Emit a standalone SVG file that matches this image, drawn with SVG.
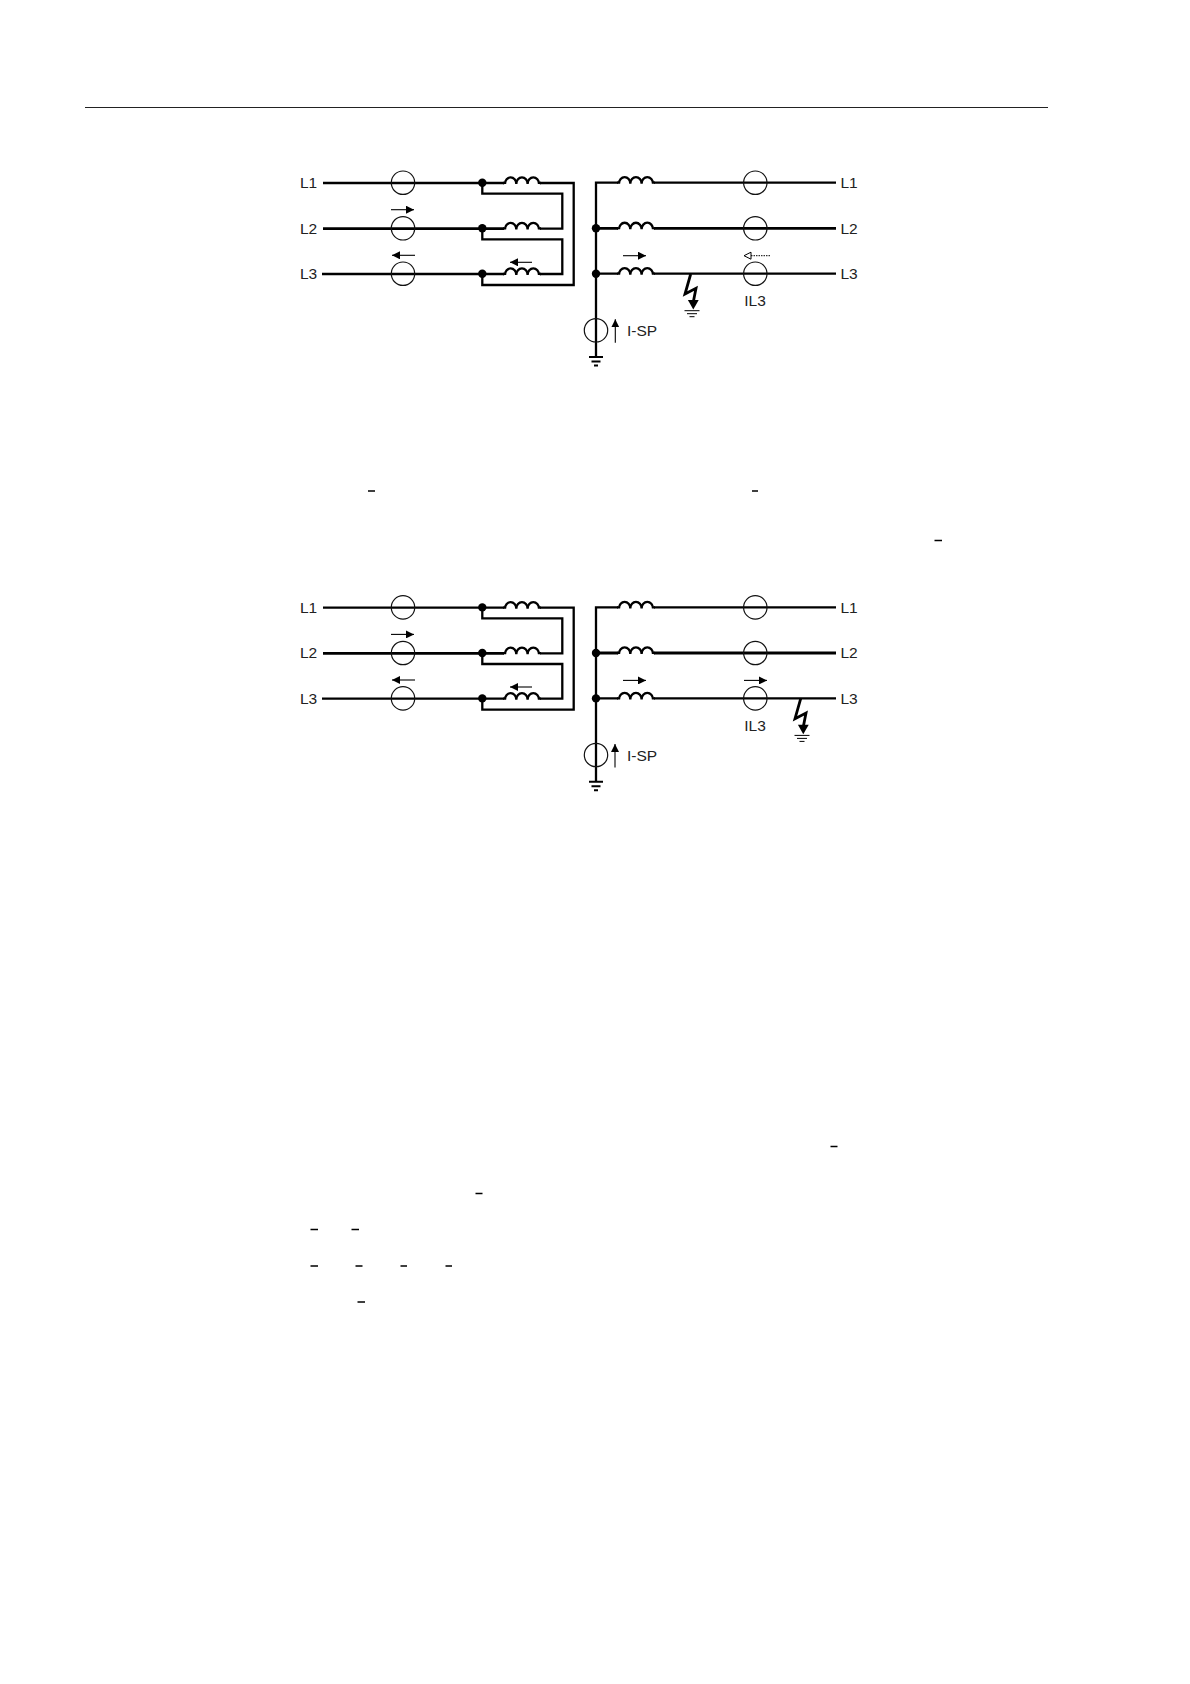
<svg xmlns="http://www.w3.org/2000/svg" xmlns:xlink="http://www.w3.org/1999/xlink" width="1190" height="1684" viewBox="0 0 1190 1684">
<style>
.w{fill:none;stroke:#000;stroke-width:2.300;stroke-linejoin:miter}
.h{stroke-width:2.800}
.ct{fill:none;stroke:#111;stroke-width:1.200}
.d{fill:#000}
.a{fill:none;stroke:#000;stroke-width:1.100;marker-end:url(#ah)}
.t{font-family:"Liberation Sans",Arial,sans-serif;font-size:15.500px;fill:#222}
.m{stroke:#000;stroke-width:1.500}
.g{stroke:#000;stroke-width:2}
.f{stroke:#000;stroke-width:1}
</style>
<defs>
<marker id="ah" markerUnits="userSpaceOnUse" markerWidth="9" markerHeight="8" refX="8" refY="4" orient="auto"><path d="M0 0L8 4L0 8Z" fill="#000"/></marker>
<path id="coil" d="M-1 0H0.500Q1 0 1 1A5.600 6.500 0 0 1 12.300 1A5.600 6.500 0 0 1 23.600 1A5.600 6.500 0 0 1 35 1Q35 0 35.500 0H37" fill="none" stroke="#000" stroke-width="2.300"/>
<g id="earth"><path class="g" d="M-7 0H7M-4.500 4.500H4.500M-2 8.500H2"/></g>
<g id="thin-earth"><path class="f" d="M-7.500 0H7.500M-5 3H5M-2.500 6H2.500"/></g>
<g id="bolt"><path d="M0 0L-5.700 20L5.300 14.300L2.600 28" fill="none" stroke="#000" stroke-width="2.800"/><path d="M-2.800 26H8L2.600 35.500Z" fill="#000"/></g>
</defs>

<g id="header"><path d="M85 107.500H1048" stroke="#222" stroke-width="1.100" fill="none"/></g>

<g id="diagram-1">
<g id="connectors-1">
<path class="w" d="M323 183H504"/>
<path class="w" d="M540 183H573.700V285H482.300V274"/>
<path class="w h" d="M323 228.700H504"/>
<path class="w" d="M322 274H504"/>
<path class="w" d="M482.300 183V193.700H562.300V228.700H540"/>
<path class="w" d="M482.300 228.700V239.300H562.300V274H540"/>
<path class="w" d="M618 182.700H596V356.700"/>
<path class="w" d="M654 182.700H836"/>
<path class="w h" d="M596 228.300H618M654 228.300H836"/>
<path class="w" d="M596 273.700H618M654 273.700H836"/>
</g>
<g id="n1-l1-l"><text class="t" x="300" y="187.500">L1</text></g>
<g id="n1-l2-l"><text class="t" x="300" y="233.500">L2</text></g>
<g id="n1-l3-l"><text class="t" x="300" y="279">L3</text></g>
<g id="n1-ct-l"><circle class="ct" cx="403" cy="182.700" r="11.700"/><circle class="ct" cx="403" cy="228.300" r="11.700"/><circle class="ct" cx="403" cy="273.700" r="11.700"/></g>
<g id="n1-dots-l"><circle class="d" cx="482.300" cy="182.700" r="4.200"/><circle class="d" cx="482.300" cy="228.300" r="4.200"/><circle class="d" cx="482.300" cy="273.700" r="4.200"/></g>
<g id="n1-coils-l"><use xlink:href="#coil" href="#coil" x="504" y="183"/><use xlink:href="#coil" href="#coil" x="504" y="228.500"/><use xlink:href="#coil" href="#coil" x="504" y="274"/></g>
<g id="n1-arrows-l"><path class="a" d="M391 209.700H414"/><path class="a" d="M415 255.300H392"/><path class="a" d="M532 262.300H510"/></g>
<g id="n1-coils-r"><use xlink:href="#coil" href="#coil" x="618" y="182.700"/><use xlink:href="#coil" href="#coil" x="618" y="228.300"/><use xlink:href="#coil" href="#coil" x="618" y="273.700"/></g>
<g id="n1-ct-r"><circle class="ct" cx="755.300" cy="182.700" r="11.700"/><circle class="ct" cx="755.300" cy="228.300" r="11.700"/><circle class="ct" cx="755.300" cy="273.700" r="11.700"/></g>
<g id="n1-dots-r"><circle class="d" cx="596" cy="228.300" r="4.200"/><circle class="d" cx="596" cy="273.700" r="4.200"/></g>
<g id="n1-arrows-r"><path class="a" d="M623 255.700H646"/><path d="M770 255.700H751" stroke="#000" stroke-width="1" stroke-dasharray="1.500 1" fill="none"/><path d="M751 252.200L744 255.700L751 259.200Z" fill="#fff" stroke="#000" stroke-width="1"/></g>
<g id="n1-fault"><use xlink:href="#bolt" href="#bolt" x="690.700" y="274"/><use xlink:href="#thin-earth" href="#thin-earth" x="692" y="310.700"/></g>
<g id="n1-il3"><text class="t" x="755" y="305.500" text-anchor="middle">IL3</text></g>
<g id="n1-r-labels"><text class="t" x="840.500" y="187.500">L1</text><text class="t" x="840.500" y="233.500">L2</text><text class="t" x="840.500" y="279">L3</text></g>
<g id="n1-sp"><circle class="ct" cx="596" cy="330.300" r="11.700"/><use xlink:href="#earth" href="#earth" x="596" y="357"/><path class="a" d="M615.300 342.700V319.300"/><text class="t" x="627" y="335.500">I-SP</text></g>
</g>

<g id="diagram-2" transform="translate(0 424.700)">
<g id="connectors-2">
<path class="w" d="M323 183H504"/>
<path class="w" d="M540 183H573.700V285H482.300V274"/>
<path class="w h" d="M323 228.700H504"/>
<path class="w" d="M322 274H504"/>
<path class="w" d="M482.300 183V193.700H562.300V228.700H540"/>
<path class="w" d="M482.300 228.700V239.300H562.300V274H540"/>
<path class="w" d="M618 182.700H596V356.700"/>
<path class="w" d="M654 182.700H836"/>
<path class="w h" d="M596 228.300H618M654 228.300H836"/>
<path class="w" d="M596 273.700H618M654 273.700H836"/>
</g>
<g id="n2-l1-l"><text class="t" x="300" y="188">L1</text></g>
<g id="n2-l2-l"><text class="t" x="300" y="233.500">L2</text></g>
<g id="n2-l3-l"><text class="t" x="300" y="279">L3</text></g>
<g id="n2-ct-l"><circle class="ct" cx="403" cy="182.700" r="11.700"/><circle class="ct" cx="403" cy="228.300" r="11.700"/><circle class="ct" cx="403" cy="273.700" r="11.700"/></g>
<g id="n2-dots-l"><circle class="d" cx="482.300" cy="182.700" r="4.200"/><circle class="d" cx="482.300" cy="228.300" r="4.200"/><circle class="d" cx="482.300" cy="273.700" r="4.200"/></g>
<g id="n2-coils-l"><use xlink:href="#coil" href="#coil" x="504" y="183"/><use xlink:href="#coil" href="#coil" x="504" y="228.500"/><use xlink:href="#coil" href="#coil" x="504" y="274"/></g>
<g id="n2-arrows-l"><path class="a" d="M391 209.700H414"/><path class="a" d="M415 255.300H392"/><path class="a" d="M532 262.300H510"/></g>
<g id="n2-coils-r"><use xlink:href="#coil" href="#coil" x="618" y="182.700"/><use xlink:href="#coil" href="#coil" x="618" y="228.300"/><use xlink:href="#coil" href="#coil" x="618" y="273.700"/></g>
<g id="n2-ct-r"><circle class="ct" cx="755.300" cy="182.700" r="11.700"/><circle class="ct" cx="755.300" cy="228.300" r="11.700"/><circle class="ct" cx="755.300" cy="273.700" r="11.700"/></g>
<g id="n2-dots-r"><circle class="d" cx="596" cy="228.300" r="4.200"/><circle class="d" cx="596" cy="273.700" r="4.200"/></g>
<g id="n2-arrows-r"><path class="a" d="M623 255.700H646"/><path class="a" d="M744 255.700H767"/></g>
<g id="n2-fault"><use xlink:href="#bolt" href="#bolt" x="800.700" y="274"/><use xlink:href="#thin-earth" href="#thin-earth" x="802" y="310.700"/></g>
<g id="n2-il3"><text class="t" x="755" y="306" text-anchor="middle">IL3</text></g>
<g id="n2-r-labels"><text class="t" x="840.500" y="188">L1</text><text class="t" x="840.500" y="233.500">L2</text><text class="t" x="840.500" y="279">L3</text></g>
<g id="n2-sp"><circle class="ct" cx="596" cy="330.300" r="11.700"/><use xlink:href="#earth" href="#earth" x="596" y="357"/><path class="a" d="M615 342.700V319.300"/><text class="t" x="627" y="336">I-SP</text></g>
</g>

<g id="marks">
<path class="m" d="M368 491H375M752 491H758M934.500 540.500H942M830.500 1146.500H837.500M475.500 1193.500H482.500M310.500 1229.500H318M351.500 1229.500H359M310.500 1266H318M355.500 1266H362.500M400.500 1266H407M445.500 1266H452M357.500 1302H365"/>
</g>
</svg>
